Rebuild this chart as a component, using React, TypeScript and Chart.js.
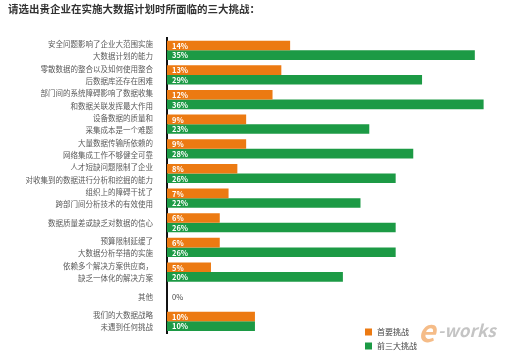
import React, { useEffect, useRef } from "react";
import { Chart, registerables } from "chart.js";

Chart.register(...registerables);

const titleText = "请选出贵企业在实施大数据计划时所面临的三大挑战：";
const categories: (string | string[])[] = [
  ["安全问题影响了企业大范围实施", "大数据计划的能力"],
  ["零散数据的整合以及如何使用整合", "后数据库还存在困难"],
  ["部门间的系统障碍影响了数据收集", "和数据关联发挥最大作用"],
  ["设备数据的质量和", "采集成本是一个难题"],
  ["大量数据传输所依赖的", "网络集成工作不够健全可靠"],
  ["人才短缺问题限制了企业", "对收集到的数据进行分析和挖掘的能力"],
  ["组织上的障碍干扰了", "跨部门间分析技术的有效使用"],
  "数据质量差或缺乏对数据的信心",
  ["预算限制延缓了", "大数据分析举措的实施"],
  ["依赖多个解决方案供应商，", "缺乏一体化的解决方案"],
  "其他",
  ["我们的大数据战略", "未遇到任何挑战"],
];
const seriesNames = ["首要挑战", "前三大挑战"];
const topChallenge = [14, 13, 12, 9, 9, 8, 7, 6, 6, 5, 0, 10];
const top3Challenge = [35, 29, 36, 23, 28, 26, 22, 26, 26, 20, 0, 10];
const colors = ["#EC7A12", "#1C9A45"];
const FONT = "'Noto Sans CJK SC', 'Noto Sans', sans-serif";

export default function App() {
  const ref = useRef<HTMLCanvasElement | null>(null);
  useEffect(() => {
    document.body.style.margin = "0";
    const canvas = ref.current!;
    const labelPlugin = {
      id: "labels",
      afterDatasetsDraw(chart: any) {
        const ctx = chart.ctx;
        ctx.save();
        ctx.font = `bold 7.5px ${FONT}`;
        ctx.textBaseline = "middle";
        const left = chart.chartArea.left;
        chart.data.datasets.forEach((ds: any, di: number) => {
          const meta = chart.getDatasetMeta(di);
          meta.data.forEach((bar: any, i: number) => {
            const v = ds.data[i];
            if (v === 0) return;
            ctx.fillStyle = "#ffffff";
            ctx.textAlign = "left";
            ctx.fillText(v + "%", left + 5, bar.y + 0.5);
          });
        });
        const ys = chart.scales.y;
        topChallenge.forEach((v, i) => {
          if (v === 0 && top3Challenge[i] === 0) {
            ctx.fillStyle = "#444";
            ctx.font = `7.5px ${FONT}`;
            ctx.textAlign = "left";
            ctx.fillText("0%", left + 5, ys.getPixelForValue(i));
          }
        });
        // title
        ctx.fillStyle = "#333";
        ctx.font = `bold 10.5px ${FONT}`;
        ctx.textAlign = "left";
        ctx.fillText(titleText, 8, 9);
        // watermark
        ctx.globalAlpha = 0.5;
        ctx.font = `italic bold 30px ${FONT}`;
        ctx.fillStyle = "#EC7A12";
        ctx.fillText("e", 418, 331);
        ctx.fillStyle = "#8a8a8a";
        ctx.font = `italic bold 17px ${FONT}`;
        ctx.fillText("-works", 438, 331);
        ctx.globalAlpha = 1;
        // legend
        seriesNames.forEach((n, i) => {
          const y = 332 + i * 14;
          ctx.fillStyle = colors[i];
          ctx.fillRect(365, y - 3.5, 7, 7);
          ctx.fillStyle = "#444";
          ctx.font = `8px ${FONT}`;
          ctx.fillText(n, 377, y);
        });
        ctx.restore();
      },
    };
    const chart = new Chart(canvas, {
      type: "bar",
      data: {
        labels: categories,
        datasets: seriesNames.map((n, i) => ({
          label: n,
          data: i === 0 ? topChallenge : top3Challenge,
          backgroundColor: colors[i],
          borderWidth: 0,
          barPercentage: 1,
          categoryPercentage: 0.78,
        })),
      },
      options: {
        indexAxis: "y",
        animation: false,
        responsive: false,
        maintainAspectRatio: false,
        layout: { padding: { top: 38, bottom: 2, left: 0, right: 5 } },
        plugins: { legend: { display: false }, tooltip: { enabled: false }, title: { display: false } },
        scales: {
          x: { display: false, min: 0, max: 39 },
          y: {
            grid: { display: false },
            border: { display: true, color: "#111", width: 2 },
            ticks: {
              color: "#5a5a5a",
              font: { family: FONT, size: 7.5, lineHeight: 1.65 },
              padding: 6,
              autoSkip: false,
            },
            afterFit(scale: any) {
              scale.width = 167;
            },
          },
        },
      },
      plugins: [labelPlugin],
    } as any);
    return () => chart.destroy();
  }, []);
  return <canvas ref={ref} width={515} height={352} style={{ display: "block" }} />;
}
